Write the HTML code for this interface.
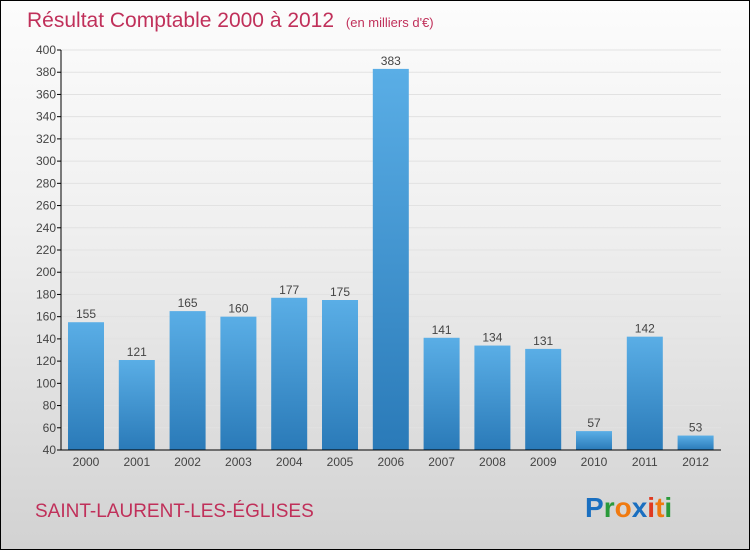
<!DOCTYPE html>
<html><head><meta charset="utf-8"><style>
html,body{margin:0;padding:0}
body{width:750px;height:550px;overflow:hidden;font-family:"Liberation Sans","DejaVu Sans",sans-serif}
#wrap{position:relative;width:748px;height:548px;border:1px solid #000;background:linear-gradient(#fcfcfc 0%,#f0f0f0 40%,#d2d2d2 100%)}
</style></head><body>
<div id="wrap">
<svg id="chart" width="748" height="548">
<text x="26" y="26" font-size="21" fill="#c0305a">Résultat Comptable 2000 à 2012 <tspan font-size="13" dx="6">(en milliers d'€)</tspan></text>
<text x="34" y="516" font-size="19" fill="#c0305a">SAINT-LAURENT-LES-ÉGLISES</text>
<g font-size="28" font-weight="bold" font-family="'Liberation Sans',sans-serif">
<text x="584" y="516" fill="#1a6fc0">P<tspan fill="#2a9a3a">r</tspan><tspan fill="#f07a10">o</tspan><tspan fill="#1a6fc0">x</tspan><tspan fill="#e03a20">i</tspan><tspan fill="#f07a10">t</tspan><tspan fill="#2a9a3a">i</tspan></text>
</g>
<defs><linearGradient id="bg" x1="0" y1="0" x2="0" y2="1"><stop offset="0" stop-color="#5aaee6"/><stop offset="1" stop-color="#2a7ab8"/></linearGradient></defs>
<g id="grid"></g><g id="bars"></g><g id="axes"></g>
</svg>
</div>
<script>
const years=["2000","2001","2002","2003","2004","2005","2006","2007","2008","2009","2010","2011","2012"];
const values=[155,121,165,160,177,175,383,141,134,131,57,142,53];
const yTicks=[40,60,80,100,120,140,160,180,200,220,240,260,280,300,320,340,360,380,400];
(function(){
const yMin=40,yMax=400,plotTop=49,plotBottom=449,plotLeft=60,plotRight=720;
const ns="http://www.w3.org/2000/svg";
function y(v){return plotBottom-(v-yMin)/(yMax-yMin)*(plotBottom-plotTop);}
function x(i){return 85+i*50.8;}
function mk(t,a,p){const e=document.createElementNS(ns,t);for(const k in a)e.setAttribute(k,a[k]);p.appendChild(e);return e;}
const G=document.getElementById('grid'),B=document.getElementById('bars'),A=document.getElementById('axes');
yTicks.forEach(v=>{
 const l=mk('line',{x1:plotLeft,x2:plotRight,y1:y(v),y2:y(v),stroke:'#e2e2e2','stroke-width':1},G);
 
 
 const tk=mk('line',{x1:plotLeft-4,x2:plotLeft,y1:y(v),y2:y(v),stroke:'#000'},A);
 
 
 const t=mk('text',{x:plotLeft-5,y:y(v)+4,'font-size':12,fill:'#444','text-anchor':'end'},A);
 t.textContent=v;
 
 
});
values.forEach((v,i)=>{
 const r=mk('rect',{x:x(i)-18,y:y(v),width:36,height:plotBottom-y(v),fill:'url(#bg)'},B);
 
 
 const t=mk('text',{x:x(i),y:y(v)-4,'font-size':12,fill:'#444','text-anchor':'middle'},B);
 t.textContent=v;
 
 
 const xl=mk('text',{x:x(i),y:plotBottom+16,'font-size':12,fill:'#444','text-anchor':'middle'},A);
 xl.textContent=years[i];
 
 
});
const ya=mk('line',{x1:plotLeft,x2:plotLeft,y1:plotTop,y2:plotBottom,stroke:'#000'},A);


const xa=mk('line',{x1:plotLeft,x2:plotRight,y1:plotBottom,y2:plotBottom,stroke:'#000'},A);


})();
</script>
</body></html>
